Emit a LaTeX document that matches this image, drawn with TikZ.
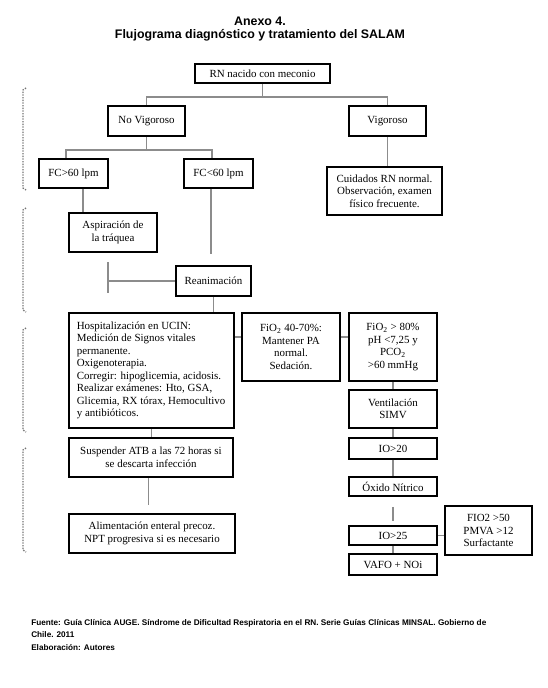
\documentclass[tikz,border=0pt]{standalone}
\usepackage{fontspec}
\setmainfont{Liberation Serif}
\newfontfamily\sansf{Liberation Sans}
\usetikzlibrary{calc}
\begin{document}
\begin{tikzpicture}[x=0.75pt,y=-0.75pt,
  bx/.style 2 args={draw=black, line width=1.3pt, minimum width=#1*0.75pt, minimum height=#2*0.75pt, inner sep=1pt, align=center, font=\fontsize{8.2}{9.4}\selectfont},
  conn/.style={draw=black!45, line width=1.1pt},
  brk/.style={draw=black!55, line width=1pt, densely dotted}]
\useasboundingbox[fill=white] (0,0) rectangle (547,688);

% title
\node[font=\sansf\bfseries\fontsize{9.3}{9.75}\selectfont, align=center] (title) at (260,29.5) {Anexo 4.\\Flujograma diagnóstico y tratamiento del SALAM};

% boxes
\node[bx={135}{19}] (rn) at (262.5,73.5) {RN nacido con meconio};
\node[bx={77}{30}] (nv) at (146.5,121) {No Vigoroso};
\node[bx={77}{30}] (vg) at (387.5,121) {Vigoroso};
\node[bx={69}{29}] (fa60) at (73.5,173.5) {FC>60 lpm};
\node[bx={69}{29}] (fb60) at (218.5,173.5) {FC<60 lpm};
\node[bx={115}{48}] (cu) at (384.5,191) {Cuidados RN normal.\\Observación, examen\\físico frecuente.};
\node[bx={88}{39}] (asp) at (113,232.5) {Aspiración de\\la tráquea};
\node[bx={75}{30}] (rea) at (213.5,281) {Reanimación};
\node[bx={165}{115}, align=flush left, text width=112pt] (hosp) at (151.5,370.5) {Hospitalización en UCIN:\\Medición de Signos vitales\\permanente.\\Oxigenoterapia.\\Corregir: hipoglicemia, acidosis.\\Realizar exámenes: Hto, GSA,\\Glicemia, RX tórax, Hemocultivo\\y antibióticos.};
\node[bx={98}{68}] (fio1) at (291,347) {FiO\textsubscript{2} 40-70\%:\\Mantener PA\\normal.\\Sedación.};
\node[bx={88}{68}] (fio2) at (393,347) {FiO\textsubscript{2} > 80\%\\pH <7,25 y\\PCO\textsubscript{2}\\>60 mmHg};
\node[bx={88}{38}] (vent) at (393,409) {Ventilación\\SIMV};
\node[bx={88}{21}] (io20) at (393,448.5) {IO>20};
\node[bx={88}{19}] (ox) at (393,486.5) {Óxido Nítrico};
\node[bx={88}{19}] (io25) at (393,535.5) {IO>25};
\node[bx={87}{49}] (fio3) at (488.5,530.5) {FIO2 >50\\PMVA >12\\Surfactante};
\node[bx={88}{21}] (vafo) at (393,564.5) {VAFO + NOi};
\node[bx={164}{39}] (susp) at (151,457.5) {Suspender ATB a las 72 horas si\\se descarta infección};
\node[bx={166}{39}] (alim) at (152,533.5) {Alimentación enteral precoz.\\NPT progresiva si es necesario};

% connectors
\coordinate (j1) at (262.5,97);
\draw[conn] (rn.south) -- (j1);
\draw[conn] (nv.north) |- (j1) -| (vg.north);
\coordinate (j2) at (146.5,150);
\draw[conn] (nv.south) -- (j2);
\draw[conn] ([xshift=-5.5pt]fa60.north) |- (j2) -| ([xshift=-4.9pt]fb60.north);
\draw[conn] (vg.south) -- (vg.south |- cu.north);
\draw[conn] ([xshift=7pt]fa60.south) -- ([xshift=7pt]fa60.south |- asp.north);
\draw[conn, shorten >=8pt] ([xshift=-5.5pt]fb60.south) -- ([xshift=-5.5pt]fb60.south |- rea.north);
\coordinate (b1) at (108,262);
\coordinate (b2) at (108,293);
\draw[conn] (b1) -- (b2);
\draw[conn] (rea.west) -- (rea.west -| b1);
\draw[conn] (rea.south) -- (rea.south |- hosp.north);
\coordinate (ya) at (0,337);
\draw[conn] (hosp.east |- ya) -- (fio1.west |- ya);
\draw[conn] (fio1.east |- ya) -- (fio2.west |- ya);
\draw[conn] (fio2.south) -- (vent.north);
\draw[conn] (vent.south) -- (io20.north);
\draw[conn] (io20.south) -- (ox.north);
\draw[conn, shorten <=7.5pt, shorten >=3pt] (ox.south) -- (io25.north);
\draw[conn] (io25.east) -- (io25.east -| fio3.west);
\draw[conn] (io25.south) -- (vafo.north);
\draw[conn] (hosp.south) -- (hosp.south |- susp.north);
\draw[conn, shorten >=6pt] ([xshift=-2pt]susp.south) -- ([xshift=-2pt]susp.south |- alim.north);

% left brackets
\foreach \a/\b in {88/190, 208/312, 328/432, 448/552}
  \draw[brk] (26,\a) -- (23,\a+2) -- (23,\b-2) -- (26,\b);

% footer
\node[anchor=north west, font=\sansf\bfseries\fontsize{6.15}{9.4}\selectfont, align=left, inner sep=0pt] (src) at (31,619) {Fuente: Guía Clínica AUGE. Síndrome de Dificultad Respiratoria en el RN. Serie Guías Clínicas MINSAL. Gobierno de\\Chile. 2011\\Elaboración: Autores};
\end{tikzpicture}
\end{document}
